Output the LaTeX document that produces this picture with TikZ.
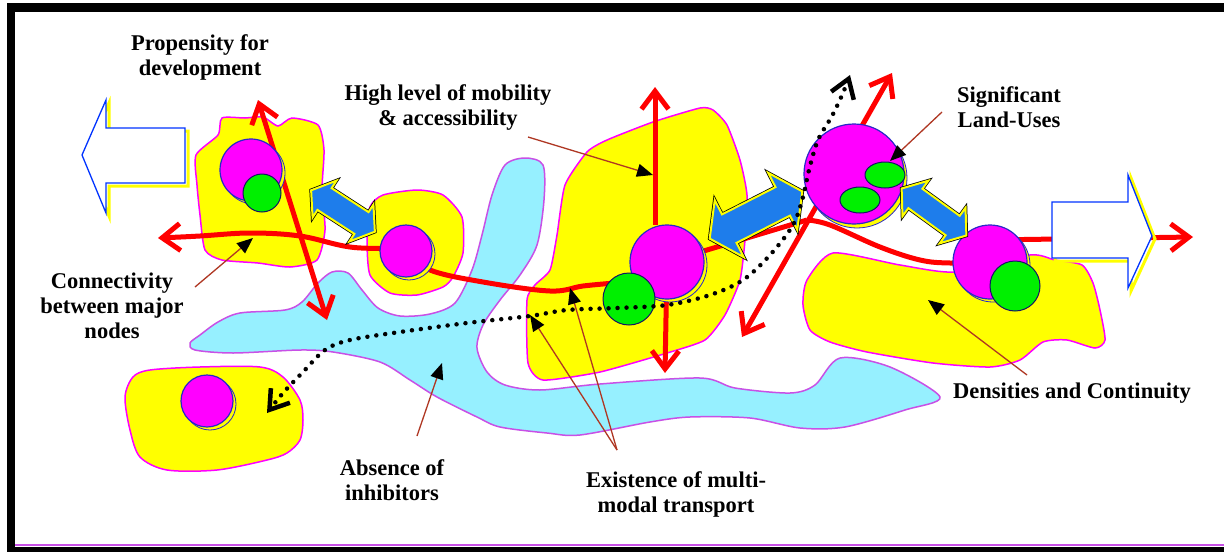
\documentclass[tikz,border=0pt]{standalone}
\usepackage{fontspec}
\setmainfont{Liberation Serif}
\usetikzlibrary{arrows.meta,shapes.geometric}
\definecolor{waterc}{RGB}{150,240,255}
\definecolor{wedge}{RGB}{200,80,230}
\definecolor{bluc}{RGB}{30,125,235}
\definecolor{annotc}{RGB}{175,55,35}
\definecolor{ringc}{RGB}{40,40,200}
\definecolor{magc}{RGB}{255,0,255}
\definecolor{yelc}{RGB}{255,255,0}
\definecolor{grnc}{RGB}{0,240,0}
\definecolor{redc}{RGB}{255,0,0}
\tikzset{
  redbarb/.tip={Straight Barb[length=18pt,width=27pt]},
  blackbarb/.tip={Straight Barb[length=18pt,width=24pt]},
  blacktri/.tip={Triangle[length=16pt,width=13pt,color=black]},
}
\begin{document}
\begin{tikzpicture}[x=1pt,y=-1pt,
 land/.style={fill=yelc,draw=magc,line width=1.5pt},
 waterbody/.style={fill=waterc,draw=wedge,line width=1.5pt},
 magnode/.style={circle,fill=magc,draw=ringc,line width=1.2pt,inner sep=0pt},
 grnnode/.style={circle,fill=grnc,draw=ringc!50!black,line width=1pt,inner sep=0pt},
 shadowc/.style={fill=yelc,draw=ringc,line width=0.8pt},
 redline/.style={draw=redc,line width=5pt},
 dotpath/.style={draw=black,line width=4.5pt,line cap=round,dash pattern=on 0pt off 9pt},
 annot/.style={draw=annotc,line width=1.3pt,-blacktri},
 bluearrow/.style={fill=bluc,draw=yelc,line width=2pt,preaction={draw=black,line width=3.5pt}},
 whitearrow/.style={fill=white,draw=blue!80!cyan,line width=1.3pt},
 arrshadow/.style={draw=yelc,line width=3pt},
 lbl/.style={font=\bfseries\fontsize{22.5}{25}\selectfont,align=center,inner sep=0pt}
]
\useasboundingbox (0,0) rectangle (1224,552);
% frame
\fill[white] (0,0) rectangle (1224,552);
\fill[black] (7,3) rectangle (1224,12);
\fill[black] (7,3) rectangle (15,552);
\fill[black] (7,547) rectangle (1224,552);
\draw[wedge,line width=1.5pt] (15,545) -- (1224,545);

% named centres
\coordinate (p1) at (251,170);
\coordinate (q1) at (262,193);
\coordinate (p2) at (406,251);
\coordinate (p3) at (667,262);
\coordinate (q3) at (629,299);
\coordinate (p4) at (854,174);
\coordinate (p5) at (990,262);
\coordinate (q5) at (1015,286);
\coordinate (p6) at (207,401);
\coordinate (junc) at (807,220);
\coordinate (lefttip) at (158,238);
\coordinate (righttip) at (1193,237);

% water
\draw[waterbody] plot[smooth cycle,tension=0.5] coordinates {(190,343) (200,335) (218,322) (240,313) (285,310) (302,302) (318,283) (332,272) (348,273) (362,290) (378,308) (400,316) (430,314) (455,303) (472,270) (482,235) (492,195) (505,165) (525,158) (543,165) (544,200) (537,245) (520,275) (500,300) (483,325) (477,348) (487,372) (505,385) (540,390) (600,384) (700,378) (735,388) (790,393) (815,385) (840,358) (890,367) (940,397) (905,410) (845,427) (800,428) (750,418) (690,417) (650,422) (580,435) (547,433) (500,427) (477,417) (437,397) (410,380) (380,362) (333,352) (300,350) (233,353) (195,350)};

% land
\draw[land] plot[smooth cycle,tension=0.4] coordinates {(196,155) (218,135) (222,118) (245,118) (263,117) (278,126) (292,118) (318,125) (324,150) (322,190) (325,230) (317,260) (290,267) (258,263) (222,260) (205,250) (200,215) (197,185)};
\draw[land] plot[smooth cycle,tension=0.4] coordinates {(370,207) (383,195) (417,190) (443,195) (462,217) (463,253) (453,277) (443,287) (417,295) (390,293) (370,275) (367,240)};
\draw[land] plot[smooth cycle,tension=0.35] coordinates {(527,300) (528,363) (543,380) (600,372) (667,353) (705,340) (725,315) (740,280) (745,240) (747,195) (740,160) (727,125) (713,110) (700,108) (653,122) (607,140) (587,152) (565,185) (557,235) (550,270) (535,285)};
\draw[land] plot[smooth cycle,tension=0.4] coordinates {(833,253) (900,265) (955,272) (1030,255) (1055,260) (1082,265) (1093,283) (1100,310) (1105,340) (1095,348) (1067,340) (1043,342) (1020,360) (990,367) (933,363) (867,352) (830,342) (810,330) (803,305) (807,280)};
\draw[land] plot[smooth cycle,tension=0.5] coordinates {(150,370) (200,367) (260,367) (283,377) (300,400) (303,420) (300,440) (287,453) (267,460) (217,470) (167,470) (140,457) (130,430) (125,397) (133,377)};

% red connectivity lines
\draw[redline,redbarb-] plot[smooth,tension=0.6] coordinates {(lefttip) (200,236) (250,233) (300,236) (350,247) (p2) (430,270) (483,282) (550,291) (583,286) (615,283)};
\draw[redline] (p3) -- (junc);
\draw[redline] plot[smooth,tension=0.6] coordinates {(junc) (830,225) (880,247) (920,260) (950,263) (p5)};
\draw[redline,-redbarb] (990,240) -- (righttip);
% red double arrows
\coordinate (ra1a) at (258,100); \coordinate (ra1b) at (327,320);
\draw[redline,redbarb-redbarb] (ra1a) -- (ra1b);
\coordinate (ra2a) at (655,87); \coordinate (ra2b) at (665,373);
\draw[redline,-redbarb] (655,225) -- (ra2a);
\draw[redline,-redbarb] (p3) -- (ra2b);
\coordinate (ra3a) at (742,337); \coordinate (ra3b) at (892,73);
\draw[redline,redbarb-redbarb] (ra3a) -- (ra3b);

% circles
\draw[shadowc] (254,173) circle[radius=31];
\node[magnode,minimum size=62pt] (c1) at (p1) {};
\node[grnnode,minimum size=38pt] (g1) at (q1) {};
\draw[shadowc] (409,254) circle[radius=26];
\node[magnode,minimum size=52pt] (c2) at (p2) {};
\draw[shadowc] (670,265) circle[radius=37];
\node[magnode,minimum size=74pt] (c3) at (p3) {};
\node[grnnode,minimum size=52pt] (g3) at (q3) {};
\draw[shadowc] (857,178) circle[radius=50];
\node[magnode,minimum size=100pt] (c4) at (p4) {};
\node[grnnode,ellipse,minimum width=40pt,minimum height=26pt] (g4a) at (885,175) {};
\node[grnnode,ellipse,minimum width=40pt,minimum height=26pt] (g4b) at (860,200) {};
\draw[shadowc] (993,265) circle[radius=37];
\node[magnode,minimum size=74pt] (c5) at (p5) {};
\node[grnnode,minimum size=50pt] (g5) at (q5) {};
\draw[shadowc] (210,404) circle[radius=26];
\node[magnode,minimum size=52pt] (c6) at (p6) {};

% blue double block arrows (local axis along x)
\draw[bluearrow,shift={(343,211)},rotate=-33]
  (-38,0) -- (-22,-22) -- (-22,-13) -- (22,-13) -- (22,-22) -- (38,0) -- (22,22) -- (22,13) -- (-22,13) -- (-22,22) -- cycle;
\draw[bluearrow,shift={(756,215)},rotate=27]
  (-52,0) -- (-30,-32) -- (-30,-16) -- (30,-16) -- (30,-32) -- (52,0) -- (30,32) -- (30,16) -- (-30,16) -- (-30,32) -- cycle;
\draw[bluearrow,shift={(934,212)},rotate=-36]
  (-40,0) -- (-23,-22) -- (-23,-12) -- (23,-12) -- (23,-22) -- (40,0) -- (23,22) -- (23,12) -- (-23,12) -- (-23,22) -- cycle;

% dotted transport line
\coordinate (dta) at (850,75); \coordinate (dtb) at (267,413);
\draw[dotpath,blackbarb-blackbarb] plot[smooth,tension=0.55] coordinates {(dta) (843,93) (832,116) (818,140) (809,170) (803,197) (793,225) (770,255) (743,280) (710,295) (667,305) (617,308) (567,310) (530,316) (467,323) (400,332) (350,340) (325,350) (303,372) (283,393) (dtb)};

% white block arrows
\draw[arrshadow] (85,158) -- (109,103) -- (109,131) -- (188,131) -- (188,186) -- (109,186) -- (109,216) -- cycle;
\draw[whitearrow] (82,155) -- (106,100) -- (106,128) -- (185,128) -- (185,183) -- (106,183) -- (106,213) -- cycle;
\draw[arrshadow] (1155,239) -- (1131,178) -- (1131,205) -- (1055,205) -- (1055,261) -- (1131,261) -- (1131,291) -- cycle;
\draw[whitearrow] (1152,236) -- (1128,175) -- (1128,202) -- (1052,202) -- (1052,258) -- (1128,258) -- (1128,288) -- cycle;

% labels
\node[lbl] (tprop) at (200,57) {Propensity for\\development};
\node[lbl] (tmob) at (448,108) {High level of mobility\\\& accessibility};
\node[lbl] (tland) at (1009,107) {Significant\\Land-Uses};
\node[lbl] (tconn) at (112,306) {Connectivity\\between major\\nodes};
\node[lbl] (tabs) at (392,480) {Absence of\\inhibitors};
\node[lbl] (texist) at (676,494) {Existence of multi-\\modal transport};
\node[lbl] (tdens) at (1072,393) {Densities and Continuity};

% annotation pointers
\coordinate (amob) at (528,137); \coordinate (amobt) at (653,175);
\coordinate (aland) at (942,112); \coordinate (alandt) at (890,161);
\coordinate (aconn) at (195,287); \coordinate (aconnt) at (253,238);
\coordinate (aabs) at (417,436); \coordinate (aabst) at (442,363);
\coordinate (aex) at (617,450); \coordinate (aext1) at (530,315); \coordinate (aext2) at (570,288);
\coordinate (aden) at (1027,375); \coordinate (adent) at (928,300);
\draw[annot] (amob) -- (amobt);
\draw[annot] (aland) -- (alandt);
\draw[annot] (aconn) -- (aconnt);
\draw[annot] (aabs) -- (aabst);
\draw[annot] (aex) -- (aext1);
\draw[annot] (aex) -- (aext2);
\draw[annot] (aden) -- (adent);
\end{tikzpicture}
\end{document}
